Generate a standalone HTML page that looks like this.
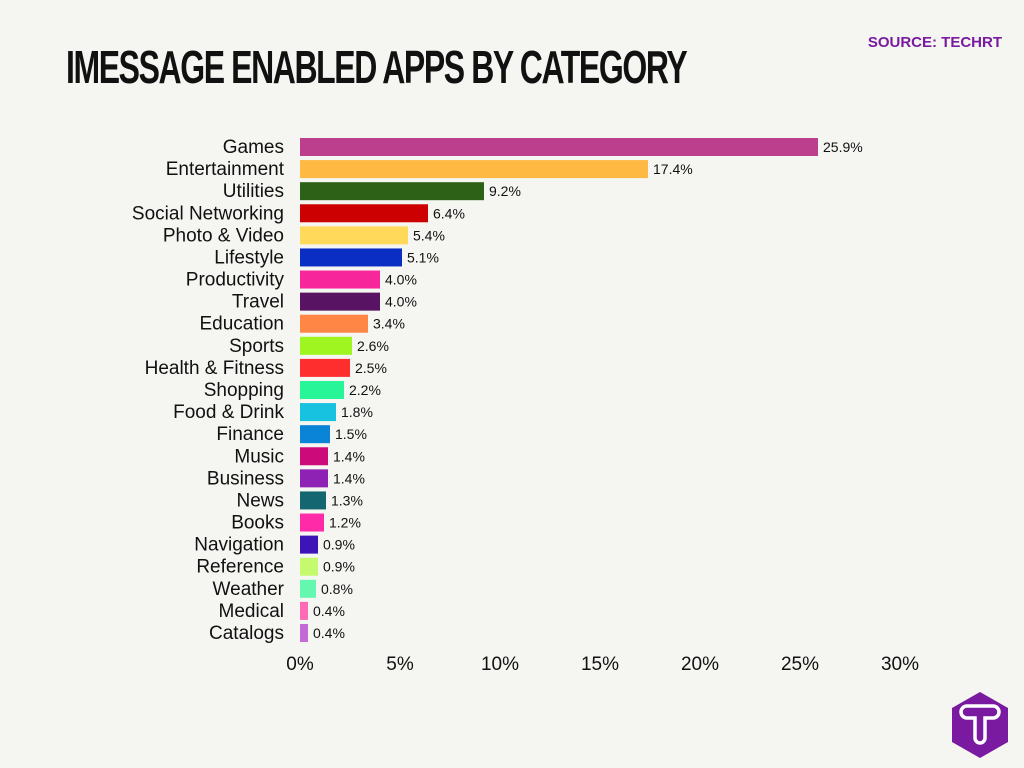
<!DOCTYPE html>
<html><head><meta charset="utf-8"><style>
body{margin:0;background:#f5f5f2;width:1024px;height:768px;overflow:hidden;font-family:"Liberation Sans",sans-serif;}
#title{position:absolute;left:66px;top:40px;font-size:46px;font-weight:bold;color:#111;letter-spacing:-2px;transform:scaleX(0.695);transform-origin:left;white-space:nowrap;}
#source{position:absolute;right:22px;top:34px;font-size:15px;font-weight:bold;color:#7a1aa0;}
</style></head><body>
<div id="title">IMESSAGE ENABLED APPS BY CATEGORY</div>
<div id="source">SOURCE: TECHRT</div>
<svg id="chart" width="1024" height="768" style="position:absolute;left:0;top:0"></svg>
<svg width="60" height="66" viewBox="0 0 60 66" style="position:absolute;left:950px;top:692px">
<polygon points="30,0 58,16 58,50 30,66 2,50 2,16" fill="#7a1aa0"/>
<path d="M17,26 a6,6 0 0 1 0,-12 h26 a6,6 0 0 1 0,12 h-8 v20 a5,5 0 0 1 -10,0 v-20 z" fill="none" stroke="#fff" stroke-width="3.5"/>
</svg>
<script>
const categories=["Games","Entertainment","Utilities","Social Networking","Photo & Video","Lifestyle","Productivity","Travel","Education","Sports","Health & Fitness","Shopping","Food & Drink","Finance","Music","Business","News","Books","Navigation","Reference","Weather","Medical","Catalogs"];
const values=[25.9,17.4,9.2,6.4,5.4,5.1,4.0,4.0,3.4,2.6,2.5,2.2,1.8,1.5,1.4,1.4,1.3,1.2,0.9,0.9,0.8,0.4,0.4];
const colors=["#bb3f8c","#fdb942","#2d6118","#cc0000","#ffd95a","#0a2ec4","#f7269b","#581362","#ff8645","#9ef51f","#ff2e2e","#28f598","#16c2e0","#0a84d6","#cc0a7a","#8e22b5","#146670","#ff2aa8","#3d14b8","#c5fa6f","#63f7b0","#ff6ab4","#c36ad6"];
const ticks=[0,5,10,15,20,25,30];
const svg=document.getElementById('chart');
const NS="http://www.w3.org/2000/svg";
const x=v=>300+v*20;
const y=i=>147+i*22.09;
function mk(t,a){const e=document.createElementNS(NS,t);for(const k in a)e.setAttribute(k,a[k]);svg.appendChild(e);return e;}
categories.forEach((c,i)=>{
  const r=mk('rect',{x:x(0),y:y(i)-9,width:x(values[i])-x(0),height:18,fill:colors[i]});
  
  
  const l=mk('text',{x:284,y:y(i)+6,'text-anchor':'end','font-size':19,fill:'#111'});
  l.textContent=c;
  
  
  const v=mk('text',{x:x(values[i])+5,y:y(i)+5,'font-size':14,fill:'#111'});
  v.textContent=values[i].toFixed(1)+'%';
  
  
});
ticks.forEach(t=>{
  const e=mk('text',{x:x(t),y:670,'text-anchor':'middle','font-size':19,fill:'#111'});
  e.textContent=t+'%';
  
  
});
</script>
</body></html>
